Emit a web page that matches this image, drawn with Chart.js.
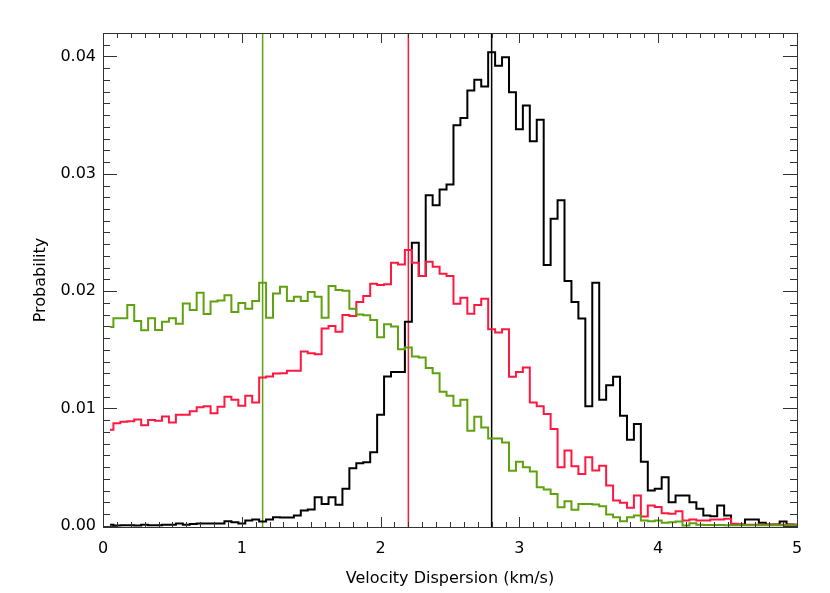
<!DOCTYPE html>
<html>
<head>
<meta charset="utf-8">
<script src="https://cdn.jsdelivr.net/npm/chart.js@4"></script>
<style>
  html, body { margin: 0; padding: 0; background: #fff; }
  #wrap { width: 830px; height: 593px; }
</style>
</head>
<body>
<div id="wrap"><canvas id="histChart" width="830" height="593"></canvas></div>
<script>
// histogram bins: centres at 0.05, 0.10, ... 5.00 (km/s)
const binWidth = 0.05;
const nBins = 100;

// probability per bin
const blackProb = [
  0.0001, 0.00003, 0.00005, 0.00005, 0.00003, 0.0001, 0.00005, 0.00005, 0.0001, 0.0001,
  0.0002, 0.0001, 0.00015, 0.0002, 0.0002, 0.0002, 0.0002, 0.0004, 0.0003, 0.0002,
  0.00045, 0.00054, 0.00037, 0.00054, 0.00074, 0.00071, 0.00071, 0.00088, 0.0013, 0.00139,
  0.00244, 0.00187, 0.00244, 0.00179, 0.00315, 0.0049, 0.00533, 0.00541, 0.00626, 0.00947,
  0.01273, 0.01312, 0.01312, 0.0174, 0.02412, 0.02129, 0.02817, 0.02732, 0.02866, 0.02908,
  0.03413, 0.03475, 0.0371, 0.03801, 0.03744, 0.04036, 0.0392, 0.03994, 0.03696, 0.03379,
  0.03583, 0.03277, 0.03461, 0.02222, 0.02616, 0.02775, 0.02086, 0.01908, 0.01766, 0.01018,
  0.02072, 0.01074, 0.01199, 0.0127, 0.00938, 0.00734, 0.00867, 0.00547, 0.003, 0.00315,
  0.00414, 0.00201, 0.00258, 0.00258, 0.00201, 0.00145, 0.00088, 0.00082, 0.00173, 0.00088,
  0.00011, 0.00011, 0.00054, 0.00054, 0.00026, 0.00011, 0.00011, 0.00037, 0.00011, 0.0001
];
const redProb = [
  0.00819, 0.00875, 0.00887, 0.00892, 0.00907, 0.00858, 0.00901, 0.00895, 0.00932, 0.00881,
  0.00946, 0.00946, 0.00977, 0.01011, 0.0102, 0.0096, 0.01014, 0.01099, 0.01074, 0.01023,
  0.01108, 0.01052, 0.01264, 0.01273, 0.01298, 0.01301, 0.01321, 0.01321, 0.01485, 0.01471,
  0.01463, 0.01681, 0.01704, 0.01653, 0.01797, 0.01789, 0.01908, 0.01959, 0.02063, 0.02052,
  0.02058, 0.02242, 0.02228, 0.0235, 0.02242, 0.02129, 0.0225, 0.02208, 0.02149, 0.02129,
  0.01893, 0.01944, 0.01808, 0.01882, 0.01936, 0.01675, 0.01647, 0.01675, 0.0127, 0.0131,
  0.01349, 0.01052, 0.01018, 0.00952, 0.00825, 0.00499, 0.00641, 0.00507, 0.00442, 0.00584,
  0.00471, 0.00513, 0.00343, 0.00215, 0.00196, 0.00153, 0.00258, 0.00079, 0.00173, 0.0016,
  0.00108, 0.00102, 0.00125, 0.00045, 0.00054, 0.00045, 0.00045, 0.00054, 0.00054, 0.0006,
  0.00017, 0.0001, 0.0001, 0.0001, 0.0001, 0.0001, 0.0001, 0.0001, 0.0001, 0.0001
];
const greenProb = [
  0.01694, 0.01768, 0.01768, 0.01881, 0.01745, 0.01666, 0.01768, 0.01669, 0.01739, 0.0177,
  0.01722, 0.01895, 0.01839, 0.01986, 0.01805, 0.01912, 0.01921, 0.01966, 0.01822, 0.01898,
  0.01851, 0.01916, 0.02072, 0.01774, 0.01981, 0.02038, 0.01916, 0.01953, 0.01916, 0.01993,
  0.01953, 0.01774, 0.02044, 0.0201, 0.02004, 0.01851, 0.018, 0.01794, 0.01755, 0.01607,
  0.01718, 0.01698, 0.01505, 0.01519, 0.01443, 0.01434, 0.01344, 0.01301, 0.01142, 0.01108,
  0.01023, 0.01074, 0.00811, 0.0093, 0.00839, 0.00745, 0.00745, 0.00711, 0.0047, 0.00547,
  0.00499, 0.00462, 0.00329, 0.00309, 0.00272, 0.00159, 0.0021, 0.00136, 0.00187, 0.00187,
  0.00181, 0.00167, 0.00096, 0.00074, 0.0004, 0.00074, 0.00088, 0.00045, 0.0004, 0.00045,
  0.00026, 0.00031, 0.00037, 0.00003, 0.00023, 0.0001, 0.00008, 0.00006, 0.00006, 0.00005,
  0.00005, 0.00005, 0.00005, 0.00005, 0.00005, 0.00005, 0.00005, 0.00005, 0.00005, 0.00005
];

// mean dispersion markers
const meanLines = [
  { x: 2.8, color: '#000000' },
  { x: 2.2, color: '#ff1840' },
  { x: 1.15, color: '#5fa10f' }
];

const xTickLabels = [0, 1, 2, 3, 4, 5];
const yTickLabels = [0.00, 0.01, 0.02, 0.03, 0.04];
const xRange = [0, 5];
const yRange = [-0.0001, 0.042];

function toPoints(values) {
  return values.map((v, i) => ({ x: +((i + 1) * binWidth).toFixed(2), y: v }));
}

function histSet(values, color) {
  return {
    data: toPoints(values),
    borderColor: color,
    borderWidth: 2,
    stepped: 'middle',
    pointRadius: 0,
    fill: false
  };
}

function vLine(m) {
  return {
    data: [{ x: m.x, y: yRange[0] }, { x: m.x, y: yRange[1] }],
    borderColor: m.color,
    borderWidth: 1.5,
    pointRadius: 0,
    fill: false
  };
}

// IDL style frame with inward ticks on all four sides
const framePlugin = {
  id: 'frame',
  afterDatasetsDraw(chart) {
    const { ctx, chartArea: a, scales } = chart;
    const xs = scales.x, ys = scales.y;
    ctx.save();
    ctx.strokeStyle = '#333';
    ctx.lineWidth = 1;
    ctx.beginPath();
    for (let i = 0; i <= 50; i++) {
      const v = i / 10;
      const px = Math.round(xs.getPixelForValue(v)) + 0.5;
      const len = i % 10 === 0 ? 10 : 5;
      ctx.moveTo(px, a.bottom); ctx.lineTo(px, a.bottom - len);
      ctx.moveTo(px, a.top); ctx.lineTo(px, a.top + len);
    }
    for (let i = 0; i <= 42; i++) {
      const v = i / 1000;
      const py = Math.round(ys.getPixelForValue(v)) + 0.5;
      const len = i % 10 === 0 ? 14 : 7;
      ctx.moveTo(a.left, py); ctx.lineTo(a.left + len, py);
      ctx.moveTo(a.right, py); ctx.lineTo(a.right - len, py);
    }
    ctx.stroke();
    ctx.strokeRect(Math.round(a.left) + 0.5, Math.round(a.top) + 0.5,
      Math.round(a.right - a.left), Math.round(a.bottom - a.top));
    ctx.restore();
  }
};

const fontFam = "'DejaVu Sans', sans-serif";

new Chart(document.getElementById('histChart').getContext('2d'), {
  type: 'line',
  data: {
    datasets: [
      histSet(greenProb, '#5fa10f'),
      histSet(redProb, '#ff1840'),
      histSet(blackProb, '#000000'),
      ...meanLines.map(vLine)
    ]
  },
  options: {
    responsive: false,
    animation: false,
    events: [],
    layout: { padding: { left: 0, top: 33, right: 33, bottom: 0 } },
    plugins: { legend: { display: false }, tooltip: { enabled: false } },
    scales: {
      x: {
        type: 'linear',
        min: xRange[0], max: xRange[1],
        afterBuildTicks: s => { s.ticks = xTickLabels.map(v => ({ value: v })); },
        afterFit: s => { s.height = 66; },
        grid: { display: false, drawTicks: false },
        border: { display: false },
        ticks: { color: '#000', padding: 12, maxRotation: 0, font: { family: fontFam, size: 16 } },
        title: { display: true, text: 'Velocity Dispersion (km/s)', color: '#000',
                 padding: { top: 0, bottom: 5 }, font: { family: fontFam, size: 16 } }
      },
      y: {
        type: 'linear',
        min: yRange[0], max: yRange[1],
        afterBuildTicks: s => { s.ticks = yTickLabels.map(v => ({ value: v })); },
        afterFit: s => { s.width = 103; },
        grid: { display: false, drawTicks: false },
        border: { display: false },
        ticks: { color: '#000', padding: 7, callback: v => v.toFixed(2), font: { family: fontFam, size: 16 } },
        title: { display: true, text: 'Probability', color: '#000',
                 padding: { top: 31, bottom: 0 }, font: { family: fontFam, size: 16 } }
      }
    }
  },
  plugins: [framePlugin]
});
</script>
</body>
</html>
